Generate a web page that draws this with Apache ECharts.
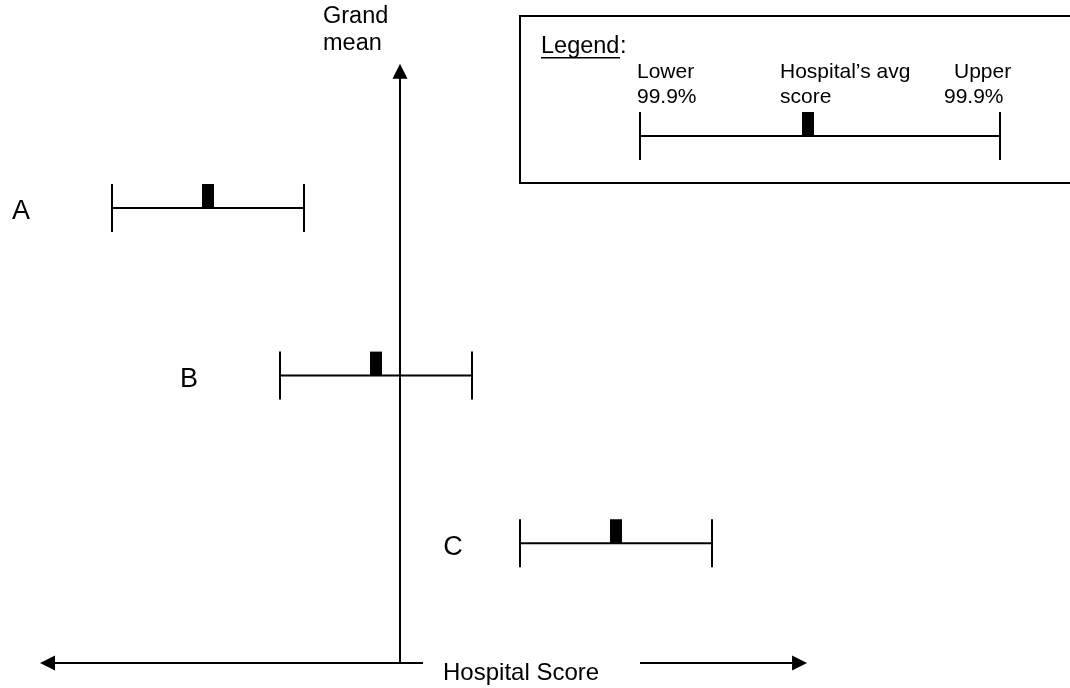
<!DOCTYPE html>
<html>
<head>
<meta charset="utf-8">
<script src="https://cdn.jsdelivr.net/npm/echarts@6/dist/echarts.min.js"></script>
<style>
html, body { margin: 0; padding: 0; background: #fff; }
#chart { width: 1070px; height: 688px; }
</style>
</head>
<body>
<div id="chart"></div>
<script>
// ---- data (score units relative to the grand mean) ----
const hospitals = ['A', 'B', 'C'];
const lower999 = [-3.0, -1.25, 1.25];
const avgScore = [-2.0, -0.25, 2.25];
const upper999 = [-1.0, 0.75, 3.25];
const rowLevel = [3, 2, 1];
const grandMean = 0;
const scoreAxisRange = [-3.75, 4.24];
const scoreAxisGap = [0.24, 2.5];
const scoreAxisLevel = 0.286;
const meanAxisTop = 3.86;
const xAxisTitle = 'Hospital Score';
const yAxisTitle = ['Grand', 'mean'];
const legendTitle = 'Legend';
const legendLower = ['Lower', '99.9%'];
const legendAvg = ['Hospital\u2019s avg', 'score'];
const legendUpper = ['Upper', '99.9%'];

// ---- style ----
const FONT = '"Liberation Sans", Arial, Helvetica, sans-serif';
const INK = '#000';
const LW = 2;
const TICK_HALF = 24;
const MARK_W = 12, MARK_H = 24;
const HEAD_L = 15, HEAD_HALF = 7.5;
const labelDx = [-91, -91, -67];

function txt(x, baseline, text, fs, align) {
  return {
    type: 'text',
    style: {
      x: x, y: baseline - 0.35 * fs, text: text, fill: INK,
      font: fs + 'px ' + FONT, align: align || 'left', verticalAlign: 'middle'
    }
  };
}
function seg(x1, y1, x2, y2, w) {
  return { type: 'line', shape: { x1: x1, y1: y1, x2: x2, y2: y2 }, style: { stroke: INK, lineWidth: w || LW } };
}
function box(x, y, w, h) {
  return { type: 'rect', shape: { x: x, y: y, width: w, height: h }, style: { fill: INK } };
}
function tri(points) {
  return { type: 'polygon', shape: { points: points }, style: { fill: INK } };
}

function renderInterval(params, api) {
  const i = params.dataIndex;
  const lo = api.coord([api.value(0), api.value(3)]);
  const av = api.coord([api.value(1), api.value(3)]);
  const up = api.coord([api.value(2), api.value(3)]);
  const y = lo[1];
  return {
    type: 'group',
    children: [
      seg(lo[0], y, up[0], y),
      seg(lo[0], y - TICK_HALF, lo[0], y + TICK_HALF),
      seg(up[0], y - TICK_HALF, up[0], y + TICK_HALF),
      box(av[0] - MARK_W / 2, y - MARK_H, MARK_W, MARK_H),
      txt(lo[0] + labelDx[i], y + 13.5, hospitals[i], 27, 'center')
    ]
  };
}

function renderAxes(params, api) {
  const origin = api.coord([grandMean, scoreAxisLevel]);
  const top = api.coord([grandMean, meanAxisTop]);
  const left = api.coord([scoreAxisRange[0], scoreAxisLevel]);
  const right = api.coord([scoreAxisRange[1], scoreAxisLevel]);
  const g0 = api.coord([scoreAxisGap[0], scoreAxisLevel]);
  const g1 = api.coord([scoreAxisGap[1], scoreAxisLevel]);
  const y = origin[1];
  const x = origin[0];
  return {
    type: 'group',
    children: [
      // vertical (grand mean) arrow
      seg(x, y, x, top[1] + HEAD_L - 1),
      tri([[x, top[1]], [x - HEAD_HALF, top[1] + HEAD_L], [x + HEAD_HALF, top[1] + HEAD_L]]),
      // horizontal score arrows
      seg(left[0] + HEAD_L - 1, y, g0[0], y),
      tri([[left[0], y], [left[0] + HEAD_L, y - HEAD_HALF], [left[0] + HEAD_L, y + HEAD_HALF]]),
      seg(g1[0], y, right[0] - HEAD_L + 1, y),
      tri([[right[0], y], [right[0] - HEAD_L, y - HEAD_HALF], [right[0] - HEAD_L, y + HEAD_HALF]]),
      // titles
      txt(g0[0] + 20, y + 19, xAxisTitle, 24, 'left'),
      txt(x - 77, top[1] - 39, yAxisTitle[0], 23.5, 'left'),
      txt(x - 77, top[1] - 12.3, yAxisTitle[1], 23.5, 'left')
    ]
  };
}

const chart = echarts.init(document.getElementById('chart'), null, { renderer: 'canvas' });

const legendGraphic = [
  { type: 'rect', shape: { x: 520, y: 16, width: 600, height: 167 }, style: { fill: '#fff', stroke: INK, lineWidth: 2 } },
  txt(541, 54.3, legendTitle, 23.5, 'left'),
  txt(620, 54.3, ':', 23.5, 'left'),
  seg(541, 57.8, 620, 57.8, 1.6),
  txt(637, 80, legendLower[0], 21, 'left'),
  txt(637, 105, legendLower[1], 21, 'left'),
  txt(780, 80, legendAvg[0], 21, 'left'),
  txt(780, 105, legendAvg[1], 21, 'left'),
  txt(954, 80, legendUpper[0], 21, 'left'),
  txt(944, 105, legendUpper[1], 21, 'left'),
  seg(640, 136, 1000, 136),
  seg(640, 112, 640, 160),
  seg(1000, 112, 1000, 160),
  box(802, 112, 12, 24)
];

chart.setOption({
  animation: false,
  backgroundColor: '#fff',
  grid: { left: 16, top: 40.35, width: 1046.4, height: 628.6, show: false },
  xAxis: { type: 'value', min: -4, max: 6.9, show: false },
  yAxis: { type: 'value', min: 0.25, max: 4, show: false },
  tooltip: { show: false },
  graphic: legendGraphic,
  series: [
    {
      name: 'intervals',
      type: 'custom',
      clip: false,
      silent: true,
      encode: { x: [0, 1, 2], y: 3 },
      data: hospitals.map((h, i) => [lower999[i], avgScore[i], upper999[i], rowLevel[i]]),
      renderItem: renderInterval
    },
    {
      name: 'axes',
      type: 'custom',
      clip: false,
      silent: true,
      encode: { x: 0, y: 1 },
      data: [[grandMean, scoreAxisLevel]],
      renderItem: renderAxes
    }
  ]
});
</script>
</body>
</html>
